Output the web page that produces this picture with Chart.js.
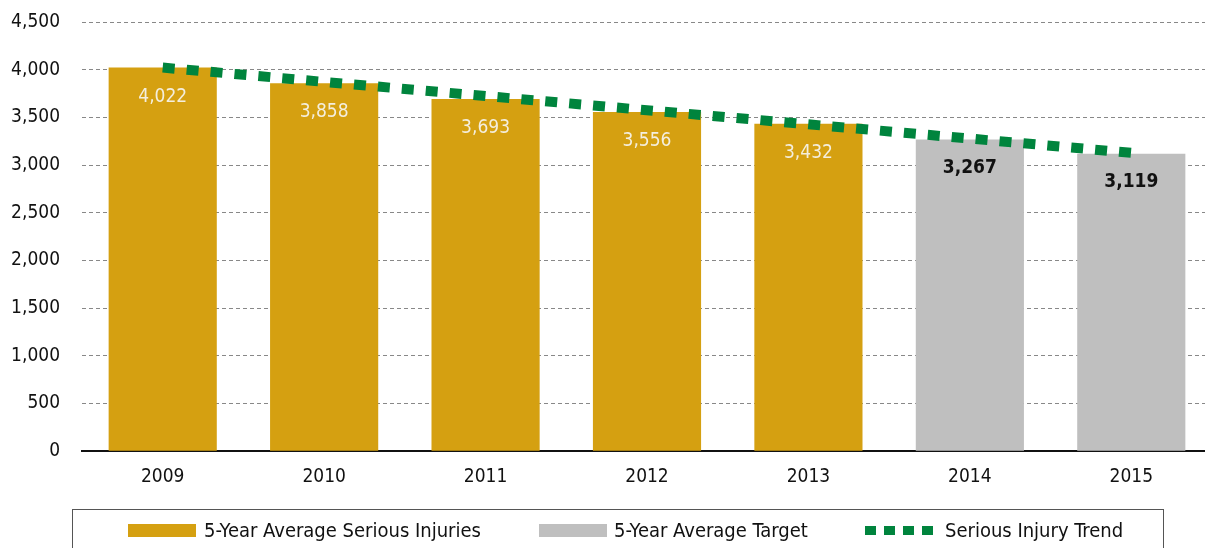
<!DOCTYPE html>
<html>
<head>
<meta charset="utf-8">
<script src="https://cdn.jsdelivr.net/npm/chart.js@4"></script>
<style>
  html, body { margin: 0; padding: 0; background: #fff; }
  #wrap { position: relative; width: 1205px; height: 548px; overflow: hidden; }
  #legend {
    position: absolute; left: 72px; top: 509px; width: 1092px; height: 48px;
    border: 1px solid #555; box-sizing: border-box;
    font-family: "Liberation Sans Narrow", "DejaVu Sans Condensed", sans-serif;
    font-size: 20px; color: #111;
  }
  .sw { position: absolute; top: 14px; width: 68px; height: 13px; }
  .txt { position: absolute; top: 8px; height: 24px; line-height: 24px; white-space: nowrap; }
  .dots { position: absolute; top: 16px; width: 69px; height: 9px;
    background: repeating-linear-gradient(90deg, #00843D 0 11px, transparent 11px 19px); }
</style>
</head>
<body>
<div id="wrap">
  <canvas id="graph" width="1212" height="548"></canvas>
  <div id="legend">
    <span class="sw" style="left:55px;background:#D5A011"></span>
    <span class="txt" style="left:131px">5-Year Average Serious Injuries</span>
    <span class="sw" style="left:466px;background:#BFBFBF"></span>
    <span class="txt" style="left:541px">5-Year Average Target</span>
    <span class="dots" style="left:792px"></span>
    <span class="txt" style="left:872px">Serious Injury Trend</span>
  </div>
</div>
<script>
const years = ['2009', '2010', '2011', '2012', '2013', '2014', '2015'];
const seriousInjuries = [4022, 3858, 3693, 3556, 3432, null, null];
const targets = [null, null, null, null, null, 3267, 3119];
const trend = [4022, 3872, 3724, 3575, 3427, 3278, 3128];
const yTicks = [0, 500, 1000, 1500, 2000, 2500, 3000, 3500, 4000, 4500];

const FONT = '"Liberation Sans Narrow", "DejaVu Sans Condensed", sans-serif';

// labels inside the top of each bar
const barLabels = {
  id: 'barLabels',
  afterDatasetsDraw(chart) {
    const ctx = chart.ctx;
    ctx.save();
    ctx.textAlign = 'center';
    ctx.textBaseline = 'middle';
    [0, 1].forEach(di => {
      const meta = chart.getDatasetMeta(di);
      const data = chart.data.datasets[di].data;
      meta.data.forEach((bar, i) => {
        if (data[i] == null) return;
        if (di === 0) {
          ctx.fillStyle = '#F4EEDD';
          ctx.font = '19px ' + FONT;
        } else {
          ctx.fillStyle = '#111';
          ctx.font = 'bold 19px ' + FONT;
        }
        ctx.fillText(data[i].toLocaleString('en-US'), bar.x, bar.y + (di === 0 ? 29 : 28));
      });
    });
    ctx.restore();
  }
};

new Chart(document.getElementById('graph'), {
  type: 'bar',
  data: {
    labels: years,
    datasets: [
      { label: '5-Year Average Serious Injuries', data: seriousInjuries, backgroundColor: '#D5A011',
        grouped: false, barPercentage: 0.67, categoryPercentage: 1, order: 2 },
      { label: '5-Year Average Target', data: targets, backgroundColor: '#BFBFBF',
        grouped: false, barPercentage: 0.67, categoryPercentage: 1, order: 2 },
      { type: 'line', label: 'Serious Injury Trend', data: trend, borderColor: '#00843D',
        borderWidth: 10, borderDash: [12, 12], pointRadius: 0, fill: false, tension: 0,
        borderCapStyle: 'butt', order: 1 }
    ]
  },
  options: {
    responsive: false,
    animation: false,
    layout: { padding: { left: 0, right: 0, top: 0, bottom: 46 } },
    plugins: { legend: { display: false }, tooltip: { enabled: false } },
    scales: {
      x: {
        grid: { display: false, drawTicks: false },
        border: { display: true, color: '#111', width: 2 },
        ticks: { font: { family: FONT, size: 19 }, color: '#111', padding: 14 }
      },
      y: {
        min: 0, max: 4500,
        afterBuildTicks: axis => { axis.ticks = yTicks.map(v => ({ value: v })); },
        afterFit: axis => { axis.width = 82; axis.paddingTop = 22; axis.paddingBottom = 0; },
        grid: { color: '#888', lineWidth: 1, drawTicks: false },
        border: { display: false, dash: [4, 3] },
        ticks: {
          font: { family: FONT, size: 19 }, color: '#111', padding: 22,
          callback: v => v.toLocaleString('en-US')
        }
      }
    }
  },
  plugins: [barLabels]
});
</script>
</body>
</html>
